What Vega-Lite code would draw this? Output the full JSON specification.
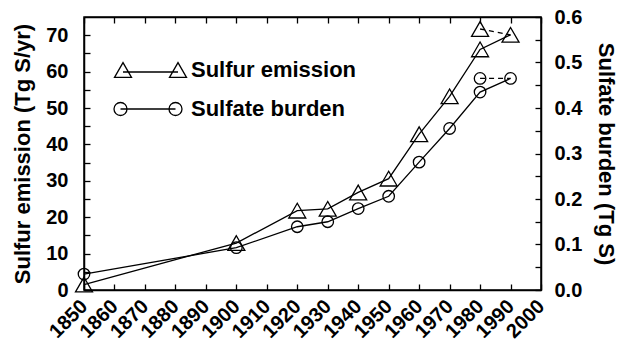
{
  "$schema": "https://vega.github.io/schema/vega-lite/v6.json",
  "width": 457,
  "height": 273,
  "autosize": "none",
  "padding": {"left": 84, "top": 17, "right": 85, "bottom": 50},
  "background": "white",
  "config": {
    "font": "Liberation Sans",
    "view": {"stroke": "black", "strokeWidth": 1.5},
    "axis": {
      "labelFont": "Liberation Sans",
      "labelFontWeight": "bold",
      "labelFontSize": 20,
      "labelColor": "black",
      "titleFont": "Liberation Sans",
      "titleFontSize": 22,
      "titleFontWeight": "bold",
      "titleColor": "black",
      "tickColor": "black",
      "tickWidth": 1.3,
      "tickSize": -6,
      "domainColor": "black",
      "domainWidth": 1.5,
      "grid": false
    }
  },
  "datasets": {
    "d": [
      {"series": "Sulfur emission", "variant": "main", "year": 1850, "value": 1.5},
      {"series": "Sulfur emission", "variant": "main", "year": 1900, "value": 12.9},
      {"series": "Sulfur emission", "variant": "main", "year": 1920, "value": 21.8},
      {"series": "Sulfur emission", "variant": "main", "year": 1930, "value": 22.3},
      {"series": "Sulfur emission", "variant": "main", "year": 1940, "value": 26.8},
      {"series": "Sulfur emission", "variant": "main", "year": 1950, "value": 30.6},
      {"series": "Sulfur emission", "variant": "main", "year": 1960, "value": 42.8},
      {"series": "Sulfur emission", "variant": "main", "year": 1970, "value": 53.2},
      {"series": "Sulfur emission", "variant": "main", "year": 1980, "value": 66.1},
      {"series": "Sulfur emission", "variant": "main", "year": 1990, "value": 70.1},
      {"series": "Sulfur emission", "variant": "alt", "year": 1980, "value": 71.7},
      {"series": "Sulfur emission", "variant": "alt", "year": 1990, "value": 70.1},
      {"series": "Sulfate burden", "variant": "main", "year": 1850, "value": 0.035},
      {"series": "Sulfate burden", "variant": "main", "year": 1900, "value": 0.093},
      {"series": "Sulfate burden", "variant": "main", "year": 1920, "value": 0.139},
      {"series": "Sulfate burden", "variant": "main", "year": 1930, "value": 0.150},
      {"series": "Sulfate burden", "variant": "main", "year": 1940, "value": 0.179},
      {"series": "Sulfate burden", "variant": "main", "year": 1950, "value": 0.206},
      {"series": "Sulfate burden", "variant": "main", "year": 1960, "value": 0.281},
      {"series": "Sulfate burden", "variant": "main", "year": 1970, "value": 0.355},
      {"series": "Sulfate burden", "variant": "main", "year": 1980, "value": 0.435},
      {"series": "Sulfate burden", "variant": "main", "year": 1990, "value": 0.465},
      {"series": "Sulfate burden", "variant": "alt", "year": 1980, "value": 0.465},
      {"series": "Sulfate burden", "variant": "alt", "year": 1990, "value": 0.465}
    ]
  },
  "data": {"name": "d"},
  "resolve": {"scale": {"y": "independent"}, "axis": {"x": "independent"}},
  "layer": [
    {
      "transform": [{"filter": "datum.series === 'Sulfur emission'"}],
      "encoding": {
        "x": {
          "field": "year", "type": "quantitative",
          "scale": {"domain": [1850, 2000], "nice": false, "zero": false},
          "axis": {
            "orient": "bottom", "title": null, "format": "d",
            "values": [1850, 1860, 1870, 1880, 1890, 1900, 1910, 1920, 1930, 1940, 1950, 1960, 1970, 1980, 1990, 2000],
            "labelAngle": -45, "labelAlign": "right", "labelBaseline": "middle",
            "labelPadding": 19, "labelFlush": false, "labelOverlap": false
          }
        },
        "y": {
          "field": "value", "type": "quantitative",
          "scale": {"domain": [0, 75], "nice": false},
          "axis": {
            "orient": "left", "title": "Sulfur emission (Tg S/yr)",
            "values": [0, 5, 10, 15, 20, 25, 30, 35, 40, 45, 50, 55, 60, 65, 70],
            "labelExpr": "datum.value % 10 === 0 ? datum.label : ''",
            "labelPadding": 22, "titlePadding": 11, "labelFlush": false, "labelOverlap": false
          }
        }
      },
      "layer": [
        {
          "transform": [{"filter": "datum.variant === 'main'"}],
          "mark": {"type": "line", "stroke": "black", "strokeWidth": 1.3}
        },
        {
          "transform": [{"filter": "datum.variant === 'alt'"}],
          "mark": {"type": "line", "stroke": "black", "strokeWidth": 1.3, "strokeDash": [5, 4]}
        },
        {
          "transform": [{"filter": "!(datum.variant === 'alt' && datum.year === 1990)"}],
          "mark": {"type": "point", "shape": "triangle-up", "filled": false, "stroke": "black", "strokeWidth": 1.3, "size": 289, "opacity": 1}
        },
        {
          "transform": [{"filter": "datum.year < 0"}],
          "mark": {"type": "point", "filled": false, "stroke": "black", "strokeWidth": 1.3, "opacity": 1},
          "encoding": {
            "shape": {
              "field": "series", "type": "nominal",
              "scale": {
                "domain": ["Sulfur emission", "Sulfate burden"],
                "range": [
                  "M0,-7.4L-8.5,7.4L8.5,7.4ZM55,-7.4L46.5,7.4L63.5,7.4ZM0,2L55,2",
                  "M4,0A6.5,6.5,0,1,1,-9,0A6.5,6.5,0,1,1,4,0ZM59,0A6.5,6.5,0,1,1,46,0A6.5,6.5,0,1,1,59,0ZM-2.5,0L52.5,0"
                ]
              },
              "legend": {
                "orient": "none", "legendX": 28, "legendY": 42, "title": null, "padding": 0,
                "labelFont": "Liberation Sans", "labelFontSize": 22, "labelFontWeight": "bold", "labelColor": "black",
                "labelLimit": 0, "symbolSize": 4, "labelOffset": 57, "rowPadding": 17,
                "symbolStrokeColor": "black", "symbolFillColor": "transparent", "symbolStrokeWidth": 1.3, "symbolOpacity": 1
              }
            }
          }
        }
      ]
    },
    {
      "transform": [{"filter": "datum.series === 'Sulfate burden'"}],
      "encoding": {
        "x": {
          "field": "year", "type": "quantitative",
          "scale": {"domain": [1850, 2000], "nice": false, "zero": false},
          "axis": {
            "orient": "top", "title": null, "labels": false,
            "values": [1850, 1860, 1870, 1880, 1890, 1900, 1910, 1920, 1930, 1940, 1950, 1960, 1970, 1980, 1990, 2000]
          }
        },
        "y": {
          "field": "value", "type": "quantitative",
          "scale": {"domain": [0, 0.6], "nice": false},
          "axis": {
            "orient": "right", "title": "Sulfate burden (Tg S)", "format": ".1f",
            "values": [0, 0.05, 0.1, 0.15, 0.2, 0.25, 0.3, 0.35, 0.4, 0.45, 0.5, 0.55, 0.6],
            "labelExpr": "round(datum.value * 100) % 10 === 0 ? datum.label : ''",
            "labelPadding": 19, "titlePadding": 12, "titleAngle": 90, "labelFlush": false, "labelOverlap": false
          }
        }
      },
      "layer": [
        {
          "transform": [{"filter": "datum.variant === 'main'"}],
          "mark": {"type": "line", "stroke": "black", "strokeWidth": 1.3}
        },
        {
          "transform": [{"filter": "datum.variant === 'alt'"}],
          "mark": {"type": "line", "stroke": "black", "strokeWidth": 1.3, "strokeDash": [5, 4]}
        },
        {
          "transform": [{"filter": "!(datum.variant === 'alt' && datum.year === 1990)"}],
          "mark": {"type": "point", "shape": "circle", "filled": false, "stroke": "black", "strokeWidth": 1.3, "size": 133, "opacity": 1}
        }
      ]
    }
  ]
}
